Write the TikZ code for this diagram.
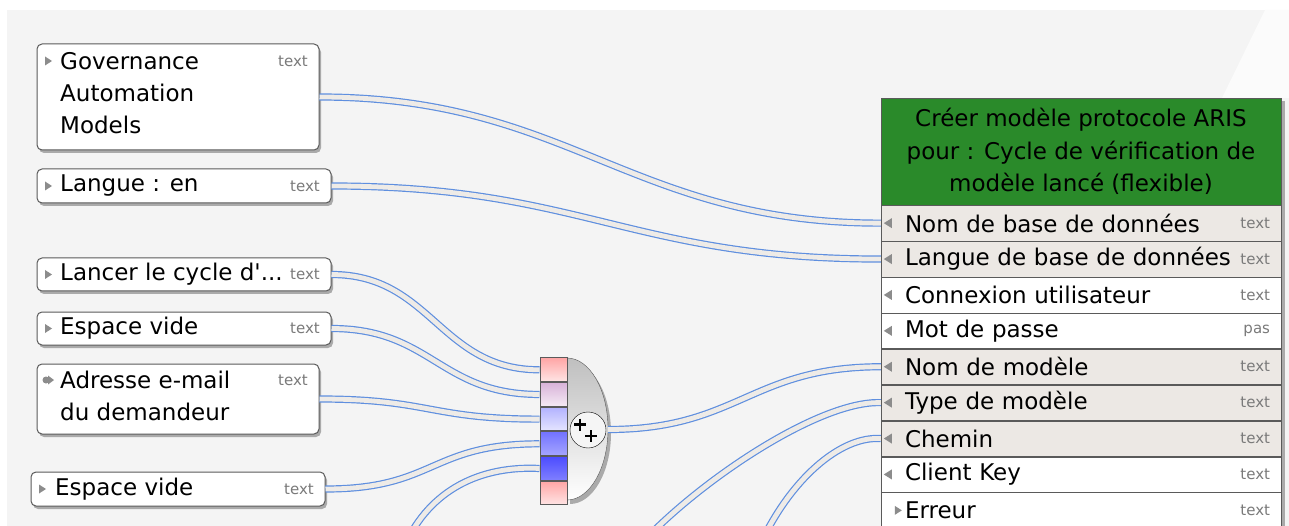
\documentclass[tikz,border=0pt]{standalone}
\usepackage{fontspec}
\setmainfont{DejaVu Sans}[Ligatures=TeXOff]
\usetikzlibrary{shadows,positioning}

\definecolor{bggray}{HTML}{F4F4F4}
\definecolor{boxline}{HTML}{5A5A5A}
\definecolor{wireblue}{HTML}{5F8FDF}
\definecolor{wirefill}{HTML}{EEEBE7}
\definecolor{hdrgreen}{HTML}{2A8A2A}
\definecolor{rowshade}{HTML}{ECE8E4}
\definecolor{markgray}{HTML}{8C8C8C}
\definecolor{typgray}{HTML}{7A7A7A}

\begin{document}
\begin{tikzpicture}[x=1pt, y=-1pt,
  inbox/.style={draw=boxline, fill=white, rounded corners=5pt, line width=1pt,
    drop shadow={shadow xshift=2pt, shadow yshift=-3pt, fill=black, opacity=0.3}},
  lbl/.style={font=\fontsize{23}{32}\selectfont, inner sep=0pt, anchor=west, align=left},
  typ/.style={font=\fontsize{15}{18}\selectfont, text=typgray, inner sep=0pt, anchor=east},
  hdr/.style={draw=boxline, fill=hdrgreen, minimum width=400pt, minimum height=107pt,
    align=center, font=\fontsize{23}{32.5}\selectfont, inner sep=0pt},
  rowbox/.style={draw=boxline, fill=white, minimum width=400pt, minimum height=35.5pt,
    inner sep=0pt, text width=352pt, align=left, font=\fontsize{23}{32}\selectfont},
  opport/.style={draw=boxline, line width=1pt, minimum width=27pt, minimum height=23.67pt, inner sep=0pt},
  wire/.style={draw=wireblue, line width=1.2pt, double=wirefill, double distance=4.8pt}
]
  \useasboundingbox (0,0) rectangle (1289,526);
  % canvas
  \fill[bggray] (7,10) rectangle (1289,526);
  \fill[white!60!bggray] (1265,10) -- (1289,10) -- (1289,98) -- (1222,98) -- cycle;

  % input boxes
  \node[inbox, minimum width=282pt, minimum height=106pt] (gov) at (178,97) {};
  \node[lbl] (govt) at (60,93) {Governance\\Automation\\Models};
  \node[typ] (govty) at (308,61) {text};

  \node[inbox, minimum width=294pt, minimum height=34pt] (lang) at (184,186) {};
  \node[lbl] (langt) at (60,186) {Langue : en};
  \node[typ] (langty) at (320,186) {text};

  \node[inbox, minimum width=294pt, minimum height=33pt] (lanc) at (184,274.5) {};
  \node[lbl] (lanct) at (60,274.5) {Lancer le cycle d'...};
  \node[typ] (lancty) at (320,274.5) {text};

  \node[inbox, minimum width=294pt, minimum height=33pt] (esp1) at (184,328.5) {};
  \node[lbl] (esp1t) at (60,328.5) {Espace vide};
  \node[typ] (esp1ty) at (320,328.5) {text};

  \node[inbox, minimum width=282pt, minimum height=70pt] (adr) at (178,399) {};
  \node[lbl] (adrt) at (60,396) {Adresse e-mail\\du demandeur};
  \node[typ] (adrty) at (308,380) {text};

  \node[inbox, minimum width=294pt, minimum height=34pt] (esp2) at (178,489) {};
  \node[lbl] (esp2t) at (55,489) {Espace vide};
  \node[typ] (esp2ty) at (314,489) {text};

  % input markers
  \fill[markgray] (52,61) -- ++(-7,-4.5) -- ++(0,9) -- cycle;
  \fill[markgray] (52,186) -- ++(-7,-4.5) -- ++(0,9) -- cycle;
  \fill[markgray] (52,274.5) -- ++(-7,-4.5) -- ++(0,9) -- cycle;
  \fill[markgray] (52,328.5) -- ++(-7,-4.5) -- ++(0,9) -- cycle;
  \fill[markgray] (46,380) circle (3.5);
  \fill[markgray] (54,380) -- ++(-6,-4.5) -- ++(0,9) -- cycle;
  \fill[markgray] (46,489) -- ++(-7,-4.5) -- ++(0,9) -- cycle;

  % function box
  \fill[black, opacity=0.3] (884,101) rectangle (1285,528);
  \node[hdr] (hdr) at (1081,151.5) {Créer modèle protocole ARIS\\pour : Cycle de vérification de\\modèle lancé (flexible)};
  \node[rowbox, fill=rowshade, below=0pt of hdr] (r1) {Nom de base de données};
  \node[rowbox, fill=rowshade, below=0pt of r1] (r2) {Langue de base de données};
  \node[rowbox, below=0pt of r2] (r3) {Connexion utilisateur};
  \node[rowbox, below=0pt of r3] (r4) {Mot de passe};
  \node[rowbox, fill=rowshade, below=0pt of r4] (r5) {Nom de modèle};
  \node[rowbox, fill=rowshade, below=0pt of r5] (r6) {Type de modèle};
  \node[rowbox, fill=rowshade, below=0pt of r6] (r7) {Chemin};
  \node[rowbox, below=0pt of r7] (r8) {Client Key};
  \node[rowbox, below=0pt of r8] (r9) {Erreur};

  \node[typ] (r1ty) at ([xshift=-11pt]r1.east) {text};
  \node[typ] (r2ty) at ([xshift=-11pt]r2.east) {text};
  \node[typ] (r3ty) at ([xshift=-11pt]r3.east) {text};
  \node[typ] (r4ty) at ([xshift=-11pt]r4.east) {pas};
  \node[typ] (r5ty) at ([xshift=-11pt]r5.east) {text};
  \node[typ] (r6ty) at ([xshift=-11pt]r6.east) {text};
  \node[typ] (r7ty) at ([xshift=-11pt]r7.east) {text};
  \node[typ] (r8ty) at ([xshift=-11pt]r8.east) {text};
  \node[typ] (r9ty) at ([xshift=-11pt]r9.east) {text};

  % operator
  \fill[black, opacity=0.3] (570,362) arc[start angle=-90, end angle=90, x radius=41, y radius=71] -- cycle;
  \draw[boxline, top color=black!25, bottom color=white] (567,358)
    arc[start angle=-90, end angle=90, x radius=41, y radius=71] -- cycle;
  \node[opport, top color=red!35, bottom color=red!10] (p1) at (553.5,369.8) {};
  \node[opport, top color=violet!30, bottom color=violet!8, below=0pt of p1] (p2) {};
  \node[opport, top color=blue!30, bottom color=blue!10, below=0pt of p2] (p3) {};
  \node[opport, top color=blue!55, bottom color=blue!35, below=0pt of p3] (p4) {};
  \node[opport, top color=blue!70, bottom color=blue!50, below=0pt of p4] (p5) {};
  \node[opport, top color=red!35, bottom color=red!10, below=0pt of p5] (p6) {};
  \node[draw=black, fill=white!60!black!10, circle, minimum size=36pt, inner sep=0pt] (plus) at (588,430) {};
  \draw[line width=2.6pt] (574,424.5) -- (586,424.5) (580,418.5) -- (580,430.5);
  \draw[line width=2.6pt] (585,436) -- (597,436) (591,430) -- (591,442);
  \coordinate (opout) at (608,429.5);

  % free ends below the picture
  \coordinate (in5) at (405,545);
  \coordinate (in6) at (640,545);
  \coordinate (in7) at (760,545);

  % connections
  \draw[wire] (gov.east) .. controls +(250,0) and +(-250,0) .. (r1.west);
  \draw[wire] (lang.east) .. controls +(250,0) and +(-250,0) .. (r2.west);
  \draw[wire] (lanc.east) .. controls +(100,0) and +(-100,0) .. (p1.west);
  \draw[wire] (esp1.east) .. controls +(100,0) and +(-100,0) .. (p2.west);
  \draw[wire] (adr.east) .. controls +(110,0) and +(-110,0) .. (p3.west);
  \draw[wire] (esp2.east) .. controls +(110,0) and +(-110,0) .. (p4.west);
  \draw[wire] (in5) .. controls (430,490) and (480,465.5) .. (p5.west);
  \draw[wire] (opout) .. controls +(130,0) and +(-130,0) .. (r5.west);
  \draw[wire] (in6) .. controls (700,480) and (820,400.25) .. (r6.west);
  \draw[wire] (in7) .. controls (790,480) and (840,435.75) .. (r7.west);

  % row markers
  \foreach \r in {r1,r2,r3,r4,r5,r6,r7,r8}
    \fill[markgray] ([xshift=3pt]\r.west) -- ++(8,-5) -- ++(0,10) -- cycle;
  \fill[markgray] ([xshift=21pt]r9.west) -- ++(-7,-4.5) -- ++(0,9) -- cycle;
\end{tikzpicture}
\end{document}
